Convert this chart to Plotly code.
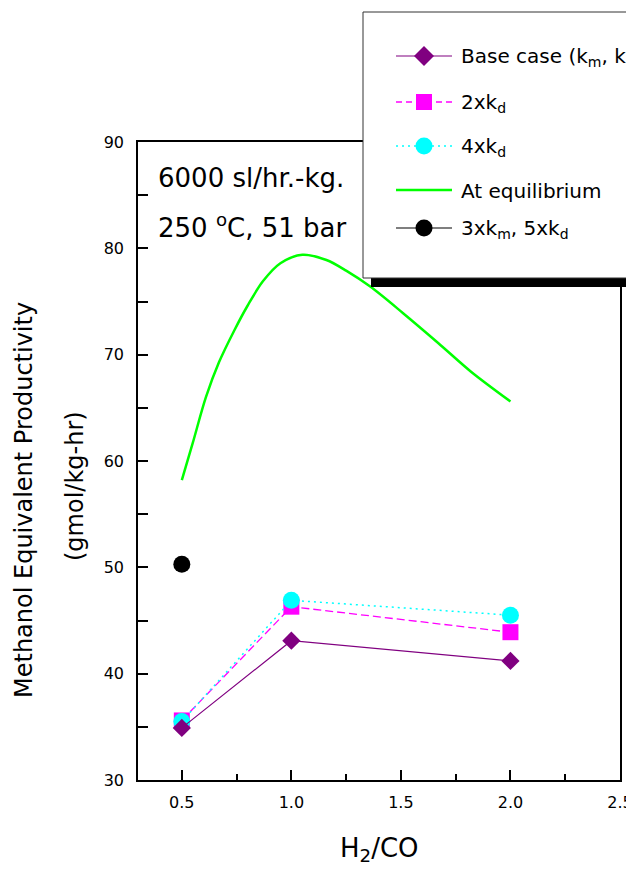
import plotly.graph_objects as go

# ---- data ----
h2co = [0.5, 1.0, 2.0]
base_case = [34.9, 43.1, 41.2]
kd_2x = [35.6, 46.3, 43.9]
kd_4x = [35.5, 46.9, 45.5]
eq_x = [0.50, 0.55, 0.61, 0.67, 0.74, 0.80, 0.87, 0.95, 1.05, 1.16, 1.25, 1.36, 1.51, 1.67, 1.82, 2.00]
eq_y = [58.2, 61.7, 66.0, 69.3, 72.3, 74.6, 76.9, 78.6, 79.4, 78.9, 77.9, 76.4, 73.9, 71.1, 68.4, 65.6]
km3_kd5_x = [0.5]
km3_kd5_y = [50.3]

FONT = "DejaVu Sans"
OFF = 8  # page body margin of the browser
W, H = 626, 861
ML, MR, MT, MB = 130, 14, 134, 89
PW, PH = W - ML - MR, H - MT - MB


def px(x):
    """picture x pixel -> paper x"""
    return (x - OFF - ML) / PW


def py(y):
    """picture y pixel -> paper y"""
    return (H - MB - (y - OFF)) / PH


fig = go.Figure()
fig.add_trace(go.Scatter(x=eq_x, y=eq_y, mode="lines",
                         line=dict(color="#00ff00", width=2.5, shape="spline", smoothing=0.9),
                         name="At equilibrium"))
fig.add_trace(go.Scatter(x=h2co, y=kd_2x, mode="lines+markers",
                         line=dict(color="#ff00ff", width=1.3, dash="8px,4px"),
                         marker=dict(symbol="square", size=16, color="#ff00ff"), name="2xkd"))
fig.add_trace(go.Scatter(x=h2co, y=kd_4x, mode="lines+markers",
                         line=dict(color="#00ffff", width=1.5, dash="2px,4px"),
                         marker=dict(symbol="circle", size=17, color="#00ffff"), name="4xkd"))
fig.add_trace(go.Scatter(x=h2co, y=base_case, mode="lines+markers",
                         line=dict(color="#800080", width=1.2),
                         marker=dict(symbol="diamond", size=14, color="#800080"), name="Base case"))
fig.add_trace(go.Scatter(x=km3_kd5_x, y=km3_kd5_y, mode="markers",
                         marker=dict(symbol="circle", size=17, color="black"), name="3xkm, 5xkd"))

shapes = []
# legend shadow + box
shapes.append(dict(type="rect", xref="paper", yref="paper", x0=px(371), x1=px(720), y0=py(20), y1=py(287),
                   fillcolor="black", line=dict(width=0), layer="above"))
shapes.append(dict(type="rect", xref="paper", yref="paper", x0=px(363), x1=px(712), y0=py(12), y1=py(278),
                   fillcolor="white", line=dict(color="#333333", width=1), layer="above"))

leg_y = [56, 102, 146, 190, 228]
leg_lines = [
    dict(color="#800080", width=1.2),
    dict(color="#ff00ff", width=1.3, dash="6px,4px"),
    dict(color="#00ffff", width=1.5, dash="2px,4px"),
    dict(color="#00ff00", width=2.5),
    dict(color="black", width=1.2),
]
for yy, ln in zip(leg_y, leg_lines):
    shapes.append(dict(type="line", xref="paper", yref="paper", x0=px(396), x1=px(452), y0=py(yy), y1=py(yy),
                       line=ln, layer="above"))

cx = 424
# diamond
d = 10
yy = leg_y[0]
shapes.append(dict(type="path", xref="paper", yref="paper",
                   path=f"M {px(cx - d)},{py(yy)} L {px(cx)},{py(yy - d)} L {px(cx + d)},{py(yy)} L {px(cx)},{py(yy + d)} Z",
                   fillcolor="#800080", line=dict(width=0), layer="above"))
# square
s = 8
yy = leg_y[1]
shapes.append(dict(type="rect", xref="paper", yref="paper", x0=px(cx - s), x1=px(cx + s), y0=py(yy + s), y1=py(yy - s),
                   fillcolor="#ff00ff", line=dict(width=0), layer="above"))
# circles
r = 8.5
for yy, col in [(leg_y[2], "#00ffff"), (leg_y[4], "black")]:
    shapes.append(dict(type="circle", xref="paper", yref="paper", x0=px(cx - r), x1=px(cx + r), y0=py(yy + r),
                       y1=py(yy - r), fillcolor=col, line=dict(width=0), layer="above"))

leg_text = ["Base case (k<sub>m</sub>, k<sub>d</sub>)", "2xk<sub>d</sub>", "4xk<sub>d</sub>", "At equilibrium",
            "3xk<sub>m</sub>, 5xk<sub>d</sub>"]
annotations = []
for yy, t in zip(leg_y, leg_text):
    annotations.append(dict(text=t, xref="paper", yref="paper", x=px(459), y=py(yy + 1), xanchor="left",
                            yanchor="middle", showarrow=False, font=dict(family=FONT, size=20, color="black")))

annotations.append(dict(text="6000 sl/hr.-kg.", xref="paper", yref="paper", x=px(156), y=py(178), xanchor="left",
                        yanchor="middle", showarrow=False, font=dict(family=FONT, size=26, color="black")))
annotations.append(dict(text="250 <sup>o</sup>C, 51 bar", xref="paper", yref="paper", x=px(156), y=py(226),
                        xanchor="left", yanchor="middle", showarrow=False,
                        font=dict(family=FONT, size=26, color="black")))
annotations.append(dict(text="H<sub>2</sub>/CO", xref="paper", yref="paper", x=px(379), y=py(849), xanchor="center",
                        yanchor="middle", showarrow=False, font=dict(family=FONT, size=26, color="black")))
annotations.append(dict(text="Methanol Equivalent Productivity", xref="paper", yref="paper", x=px(24), y=py(500),
                        xanchor="center", yanchor="middle", textangle=-90, showarrow=False,
                        font=dict(family=FONT, size=24, color="black")))
annotations.append(dict(text="(gmol/kg-hr)", xref="paper", yref="paper", x=px(75), y=py(486),
                        xanchor="center", yanchor="middle", textangle=-90, showarrow=False,
                        font=dict(family=FONT, size=24, color="black")))

axis_common = dict(showgrid=False, zeroline=False, showline=True, mirror=True, linecolor="black", linewidth=1.5,
                   ticks="inside", ticklen=10, tickcolor="black", tickwidth=1.5, automargin=False,
                   tickfont=dict(family=FONT, size=16, color="black"))

fig.update_layout(
    width=W, height=H,
    margin=dict(l=ML, r=MR, t=MT, b=MB, pad=0, autoexpand=False),
    paper_bgcolor="white", plot_bgcolor="white",
    showlegend=False,
    xaxis=dict(range=[0.3, 2.5], tick0=0.5, dtick=0.5, tickformat=".1f", ticklabelstandoff=7,
               minor=dict(ticks="inside", ticklen=6, dtick=0.25, tick0=0.25, tickcolor="black", tickwidth=1.5),
               **axis_common),
    yaxis=dict(range=[30, 90], tick0=30, dtick=10, ticklabelstandoff=9,
               minor=dict(ticks="inside", ticklen=10, dtick=5, tick0=30, tickcolor="black", tickwidth=1.5),
               **axis_common),
    shapes=shapes,
    annotations=annotations,
)

fig.write_html("out.html")
